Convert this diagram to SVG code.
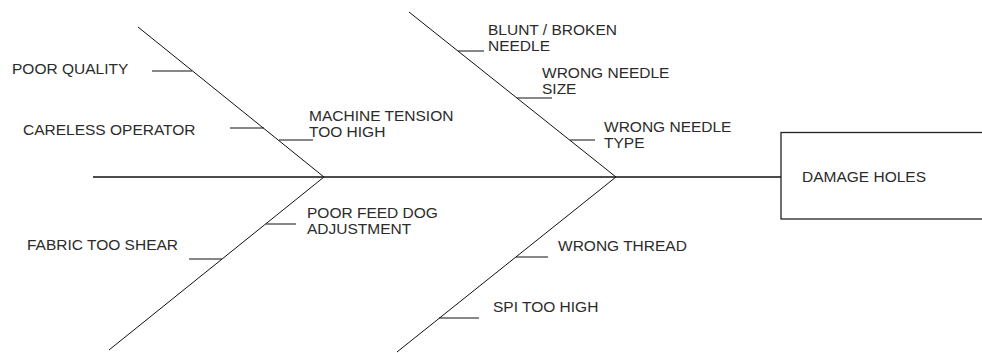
<svg xmlns="http://www.w3.org/2000/svg" width="982" height="353" viewBox="0 0 982 353">
  <style>
    .bg { fill: #ffffff; }
    .ln { stroke: #111111; stroke-width: 1; fill: none; }
    .spine { stroke: #111111; stroke-width: 1.3; fill: none; }
    .box { stroke: #222222; stroke-width: 1.3; fill: #ffffff; }
    text { font-family: "Liberation Sans", Arial, sans-serif; font-size: 15.5px; fill: #2b2b2b; }
  </style>
  <rect class="bg" x="0" y="0" width="982" height="353"/>

  <!-- spine and category bones -->
  <g id="connectors">
    <line class="spine" x1="93" y1="177" x2="781" y2="177"/>
    <line class="ln" x1="138" y1="27" x2="324" y2="177"/>
    <line class="ln" x1="324" y1="177" x2="109" y2="350"/>
    <line class="ln" x1="409" y1="12" x2="616" y2="177"/>
    <line class="ln" x1="616" y1="177" x2="397" y2="352"/>
  </g>

  <!-- effect -->
  <g id="damage-holes">
    <rect class="box" x="781" y="132.5" width="215" height="86.5"/>
    <text x="802" y="181.5">DAMAGE HOLES</text>
  </g>

  <!-- causes on the upper-left bone -->
  <g id="poor-quality">
    <line class="ln" x1="152" y1="71" x2="192" y2="71"/>
    <text x="12" y="74">POOR QUALITY</text>
  </g>
  <g id="careless-operator">
    <line class="ln" x1="230" y1="128" x2="264" y2="128"/>
    <text x="23" y="135">CARELESS OPERATOR</text>
  </g>
  <g id="machine-tension">
    <line class="ln" x1="279" y1="140" x2="313" y2="140"/>
    <text x="309" y="120.5">MACHINE TENSION</text>
    <text x="309" y="136.5">TOO HIGH</text>
  </g>

  <!-- causes on the lower-left bone -->
  <g id="poor-feed-dog">
    <line class="ln" x1="266" y1="224" x2="296" y2="224"/>
    <text x="307" y="218">POOR FEED DOG</text>
    <text x="307" y="234">ADJUSTMENT</text>
  </g>
  <g id="fabric-too-shear">
    <line class="ln" x1="189" y1="259" x2="222" y2="259"/>
    <text x="27" y="249.5">FABRIC TOO SHEAR</text>
  </g>

  <!-- causes on the upper-right bone -->
  <g id="blunt-broken-needle">
    <line class="ln" x1="458" y1="51" x2="484" y2="51"/>
    <text x="488" y="34.5">BLUNT / BROKEN</text>
    <text x="488" y="50.5">NEEDLE</text>
  </g>
  <g id="wrong-needle-size">
    <line class="ln" x1="517" y1="98" x2="552" y2="98"/>
    <text x="542" y="78">WRONG NEEDLE</text>
    <text x="542" y="94">SIZE</text>
  </g>
  <g id="wrong-needle-type">
    <line class="ln" x1="570" y1="140" x2="595" y2="140"/>
    <text x="604" y="132">WRONG NEEDLE</text>
    <text x="604" y="148">TYPE</text>
  </g>

  <!-- causes on the lower-right bone -->
  <g id="wrong-thread">
    <line class="ln" x1="516" y1="257" x2="548" y2="257"/>
    <text x="558" y="251">WRONG THREAD</text>
  </g>
  <g id="spi-too-high">
    <line class="ln" x1="439" y1="318" x2="479" y2="318"/>
    <text x="493" y="311.5">SPI TOO HIGH</text>
  </g>
</svg>
